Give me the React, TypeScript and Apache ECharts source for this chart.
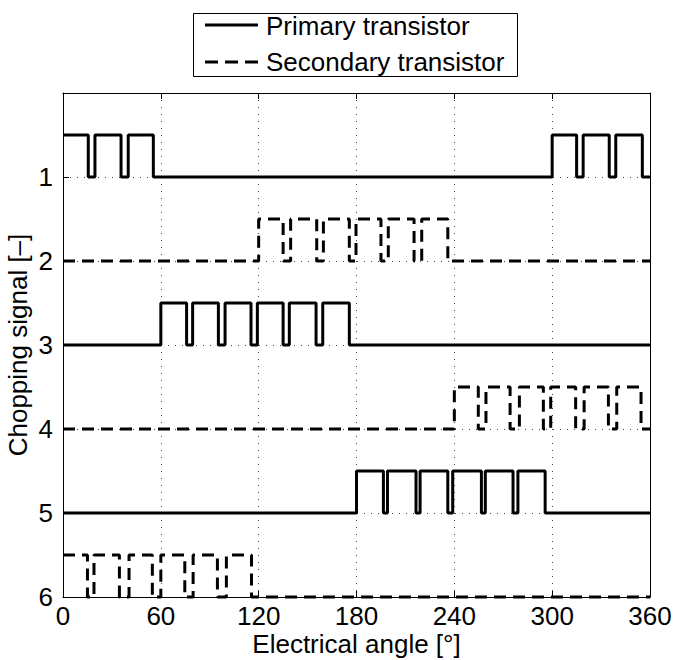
import React, { useEffect, useRef } from "react";
import * as echarts from "echarts";

const angleTicks = [0, 60, 120, 180, 240, 300, 360];
const signalLevels = [1, 2, 3, 4, 5, 6];
const legendNames = ["Primary transistor", "Secondary transistor"];
const signalKinds = [0, 1, 0, 1, 0, 1]; // 0 = primary, 1 = secondary
const pulseHeight = 0.5;

// high intervals [start, end] in electrical degrees
const signal1Pulses = [[0, 15.5], [19.6, 35.6], [40, 55.4], [300, 315], [319, 335], [339, 355.3]];
const signal2Pulses = [[120, 135], [139.6, 155.6], [159.7, 175.6], [179.7, 195], [199.5, 215.3], [220, 236]];
const signal3Pulses = [[60, 75.8], [79.5, 95.3], [99.4, 115.3], [119.2, 135], [138.8, 155.2], [159.3, 175.6]];
const signal4Pulses = [[240, 254.7], [259.4, 274.2], [279.9, 294.6], [299.1, 314.4], [319.6, 334.5], [339.6, 354.5]];
const signal5Pulses = [[180, 196.5], [199, 216.5], [219, 236], [239, 256.6], [259, 276], [279, 295.7]];
const signal6Pulses = [[0, 15], [19, 34.6], [40.5, 54.8], [60, 74.7], [79.8, 94.7], [100.2, 115.6]];

const allPulses = [signal1Pulses, signal2Pulses, signal3Pulses, signal4Pulses, signal5Pulses, signal6Pulses];

const FONT = "Liberation Sans, Arial, Helvetica, sans-serif";
const DASH = [12, 7];

function buildSteps(pulses: number[][], base: number): number[][] {
  const high = base - pulseHeight;
  const pts: number[][] = [];
  const xMin = angleTicks[0];
  const xMax = angleTicks[angleTicks.length - 1];
  if (pulses.length === 0 || pulses[0][0] > xMin) pts.push([xMin, base]);
  for (const [a, b] of pulses) {
    if (a > xMin) pts.push([a, base]);
    pts.push([a, high]);
    pts.push([b, high]);
    pts.push([b, base]);
  }
  pts.push([xMax, base]);
  return pts;
}

export default function App() {
  const ref = useRef<HTMLDivElement>(null);
  useEffect(() => {
    if (!ref.current) return;
    const chart = echarts.init(ref.current, null, { renderer: "svg" });
    const series = allPulses.map((p, i) => ({
      type: "line",
      name: legendNames[signalKinds[i]],
      data: buildSteps(p, signalLevels[i]),
      symbol: "none",
      clip: false,
      lineStyle: {
        color: "#000",
        width: 3,
        type: signalKinds[i] === 0 ? "solid" : DASH,
      },
      itemStyle: { color: "#000" },
    }));
    const axisLine = { show: true, onZero: false, lineStyle: { color: "#000", width: 1 } };
    const split = { show: true, lineStyle: { color: "#444", width: 1, type: [1, 6] } };
    const tick = { show: true, inside: true, length: 6, lineStyle: { color: "#000" } };
    const legendGraphic = [
      {
        type: "rect",
        shape: { x: 193.5, y: 13.5, width: 324, height: 63 },
        style: { fill: "#fff", stroke: "#000", lineWidth: 1 },
        z: 100,
      },
      {
        type: "line",
        shape: { x1: 205, y1: 25, x2: 258, y2: 25 },
        style: { stroke: "#000", lineWidth: 3 },
        z: 101,
      },
      {
        type: "line",
        shape: { x1: 205, y1: 62, x2: 258, y2: 62 },
        style: { stroke: "#000", lineWidth: 3, lineDash: [13, 7] },
        z: 101,
      },
      {
        type: "text",
        style: {
          text: legendNames[0],
          x: 266,
          y: 26,
          fontSize: 26,
          fontFamily: FONT,
          fill: "#000",
          verticalAlign: "middle",
        },
        z: 101,
      },
      {
        type: "text",
        style: {
          text: legendNames[1],
          x: 266,
          y: 62,
          fontSize: 26,
          fontFamily: FONT,
          fill: "#000",
          verticalAlign: "middle",
        },
        z: 101,
      },
    ];
    chart.setOption({
      animation: false,
      backgroundColor: "#fff",
      graphic: legendGraphic,
      grid: {
        left: 63,
        top: 93,
        width: 587,
        height: 504,
        containLabel: false,
        outerBoundsMode: "none",
      },
      xAxis: [
        {
          type: "value",
          min: 0,
          max: 360,
          interval: 60,
          position: "bottom",
          name: "Electrical angle [°]",
          nameLocation: "middle",
          nameGap: 34,
          nameMoveOverlap: false,
          nameTextStyle: { fontSize: 26, color: "#000", fontFamily: FONT },
          axisLine,
          axisTick: tick,
          axisLabel: { fontSize: 26, color: "#000", fontFamily: FONT, margin: 6 },
          splitLine: split,
        },
        {
          type: "value",
          min: 0,
          max: 360,
          interval: 60,
          position: "top",
          axisLine,
          axisTick: tick,
          axisLabel: { show: false },
          splitLine: { show: false },
        },
      ],
      yAxis: [
        {
          type: "value",
          min: 0,
          max: 6,
          interval: 1,
          inverse: true,
          position: "left",
          name: "Chopping signal [–]",
          nameLocation: "middle",
          nameGap: 32,
          nameMoveOverlap: false,
          nameRotate: 90,
          nameTextStyle: { fontSize: 26, color: "#000", fontFamily: FONT },
          axisLine,
          axisTick: tick,
          axisLabel: {
            fontSize: 26,
            color: "#000",
            fontFamily: FONT,
            margin: 10,
            formatter: (v: number) => (signalLevels.includes(v) ? String(v) : ""),
          },
          splitLine: split,
        },
        {
          type: "value",
          min: 0,
          max: 6,
          interval: 1,
          inverse: true,
          position: "right",
          axisLine,
          axisTick: tick,
          axisLabel: { show: false },
          splitLine: { show: false },
        },
      ],
      series,
    });
    return () => chart.dispose();
  }, []);
  return (
    <div
      ref={ref}
      style={{ position: "fixed", left: 0, top: 0, width: 674, height: 660 }}
    />
  );
}
